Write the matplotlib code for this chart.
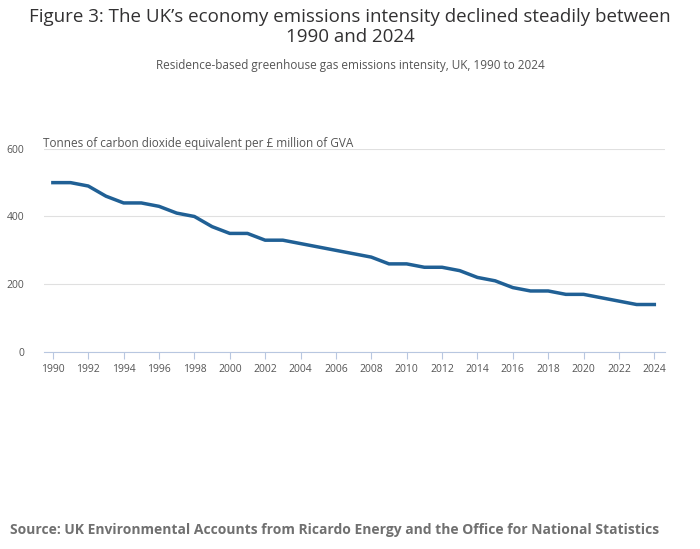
import matplotlib.pyplot as plt

years = list(range(1990, 2025))
intensity = [500, 500, 490, 460, 440, 440, 430, 410, 400, 370, 350, 350, 330, 330,
             320, 310, 300, 290, 280, 260, 260, 250, 250, 240, 220, 210, 190, 180,
             180, 170, 170, 160, 150, 140, 140]
y_ticks = [0, 200, 400, 600]
x_ticks = list(range(1990, 2025, 2))

plt.rcParams["font.family"] = ["Open Sans", "DejaVu Sans"]

fig = plt.figure(figsize=(7, 5.49), dpi=100)
fig.patch.set_facecolor("white")

fig.text(0.5, 0.985, "Figure 3: The UK\u2019s economy emissions intensity declined steadily between\n1990 and 2024",
         ha="center", va="top", fontsize=13.5, color="#323132", linespacing=1.1)
fig.text(0.5, 0.893, "Residence-based greenhouse gas emissions intensity, UK, 1990 to 2024",
         ha="center", va="top", fontsize=8.5, color="#555555")
fig.text(0.061, 0.739, "Tonnes of carbon dioxide equivalent per \u00a3 million of GVA",
         ha="left", va="center", fontsize=8.5, color="#555555")
fig.text(0.015, 0.035, "Source: UK Environmental Accounts from Ricardo Energy and the Office for National Statistics",
         ha="left", va="center", fontsize=10, fontweight="bold", color="#707070")

ax = fig.add_axes([0.0629, 0.359, 0.887, 0.37])
ax.plot(years, intensity, color="#206095", linewidth=2.5, solid_joinstyle="round")
ax.set_xlim(1989.5, 2024.6)
ax.set_ylim(0, 600)
ax.set_yticks(y_ticks)
ax.set_xticks(x_ticks)
ax.grid(axis="y", color="#e0e0e0", linewidth=0.8)
ax.set_axisbelow(True)
for side in ["top", "right", "left"]:
    ax.spines[side].set_visible(False)
ax.spines["bottom"].set_color("#b8c7e0")
ax.tick_params(axis="x", colors="#b8c7e0", labelcolor="#555555", labelsize=7.5, length=5)
ax.tick_params(axis="y", length=0, labelcolor="#555555", labelsize=7.5, pad=14)

fig.savefig("out.png", dpi=100)
